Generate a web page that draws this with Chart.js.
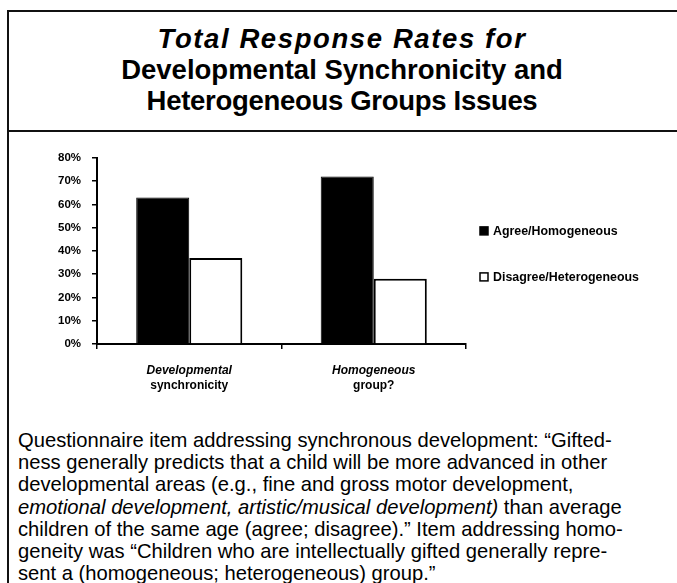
<!DOCTYPE html>
<html>
<head>
<meta charset="utf-8">
<script src="https://cdn.jsdelivr.net/npm/chart.js@4/dist/chart.umd.min.js"></script>
<style>
  html, body { margin: 0; padding: 0; background: #fff; }
  body { width: 677px; height: 583px; position: relative; overflow: hidden; font-family: "Liberation Sans", Arial, sans-serif; color: #000; }
  .rule { position: absolute; background: #111; }
  #title { position: absolute; left: 7px; right: 0; top: 23px; text-align: center; font-weight: bold; font-size: 27.5px; line-height: 31px; }
  #title .l1 { font-style: italic; letter-spacing: 1.6px; }
  #title .l3 { letter-spacing: -0.3px; }
  #note { position: absolute; left: 18px; top: 429px; font-size: 20.2px; line-height: 22.2px; white-space: pre; }
  #chartBox { position: absolute; left: 0; top: 140px; width: 677px; height: 260px; }
</style>
</head>
<body>
<div class="rule" style="left:7px; top:10px; width:670px; height:2px;"></div>
<div class="rule" style="left:7px; top:10px; width:2px; height:573px;"></div>
<div class="rule" style="left:7px; top:130px; width:670px; height:2px;"></div>

<div id="title"><span class="l1">Total Response Rates for</span><br>Developmental Synchronicity and<br><span class="l3">Heterogeneous Groups Issues</span></div>

<div id="chartBox"><canvas id="chart" width="677" height="260"></canvas></div>

<div id="note">Questionnaire item addressing synchronous development: “Gifted-
ness generally predicts that a child will be more advanced in other
developmental areas (e.g., fine and gross motor development,
<i>emotional development, artistic/musical development)</i> than average
children of the same age (agree; disagree).” Item addressing homo-
geneity was “Children who are intellectually gifted generally repre-
sent a (homogeneous; heterogeneous) group.”</div>

<script>
// Questionnaire items (two-line axis labels: first line italic)
const categories = [
  ['Developmental', 'synchronicity'],
  ['Homogeneous', 'group?']
];
// Share of responses, in percent
const agreeHomogeneous = [63, 72];
const disagreeHeterogeneous = [37, 28];
const seriesNames = ['Agree/Homogeneous', 'Disagree/Heterogeneous'];
const yTicks = [0, 10, 20, 30, 40, 50, 60, 70, 80];

const FONT = '"Liberation Sans", Arial, sans-serif';

// Two-line category labels under the axis
const categoryLabels = {
  id: 'categoryLabels',
  afterDraw(chart) {
    const ctx = chart.ctx;
    const xs = chart.scales.x;
    ctx.save();
    ctx.fillStyle = '#000';
    ctx.textAlign = 'center';
    ctx.textBaseline = 'middle';
    chart.data.labels.forEach((lines, i) => {
      const x = xs.getPixelForValue(i);
      ctx.font = 'italic bold 12px ' + FONT;
      ctx.fillText(lines[0], x, xs.bottom - 29);
      ctx.font = 'bold 12px ' + FONT;
      ctx.fillText(lines[1], x, xs.bottom - 14);
    });
    ctx.restore();
  }
};

// Legend to the right of the plot
const sideLegend = {
  id: 'sideLegend',
  afterDraw(chart) {
    const ctx = chart.ctx;
    const area = chart.chartArea;
    ctx.save();
    ctx.textBaseline = 'middle';
    ctx.font = 'bold 12.4px ' + FONT;
    chart.data.datasets.forEach((ds, i) => {
      const y = area.top + 73 + i * 46;
      const x = area.right + 14;
      ctx.fillStyle = ds.backgroundColor;
      ctx.fillRect(x, y - 4, 8, 8);
      ctx.strokeStyle = '#000';
      ctx.lineWidth = 1.5;
      ctx.strokeRect(x, y - 4, 8, 8);
      ctx.fillStyle = '#000';
      ctx.fillText(ds.label, x + 13, y + 0.5);
    });
    ctx.restore();
  }
};

new Chart(document.getElementById('chart'), {
  type: 'bar',
  data: {
    labels: categories,
    datasets: [
      { label: seriesNames[0], data: agreeHomogeneous, backgroundColor: '#000', borderColor: '#000', borderWidth: 1 },
      { label: seriesNames[1], data: disagreeHeterogeneous, backgroundColor: '#fff', borderColor: '#000', borderWidth: 2 }
    ]
  },
  options: {
    responsive: false,
    animation: false,
    devicePixelRatio: 1,
    layout: { padding: { top: 17, right: 211, left: 0, bottom: 0 } },
    datasets: { bar: { categoryPercentage: 0.575, barPercentage: 1.0 } },
    plugins: { legend: { display: false }, tooltip: { enabled: false }, title: { display: false } },
    scales: {
      x: {
        afterFit(s) { s.height = 56; },
        border: { color: '#000', width: 2 },
        grid: { offset: true, drawOnChartArea: false, drawTicks: true, tickLength: 5, color: '#000', lineWidth: 1.5 },
        ticks: { color: 'rgba(0,0,0,0)', font: { size: 11 } }
      },
      y: {
        min: 0, max: 80,
        afterFit(s) { s.width = 97; },
        afterBuildTicks(s) { s.ticks = yTicks.map(v => ({ value: v })); },
        border: { color: '#000', width: 2 },
        grid: { drawOnChartArea: false, drawTicks: true, tickLength: 5, color: '#000', lineWidth: 1.5 },
        ticks: {
          color: '#000',
          padding: 11,
          font: { family: FONT, size: 11.5, weight: 'bold' },
          callback: v => v + '%'
        }
      }
    }
  },
  plugins: [categoryLabels, sideLegend]
});
</script>
</body>
</html>
